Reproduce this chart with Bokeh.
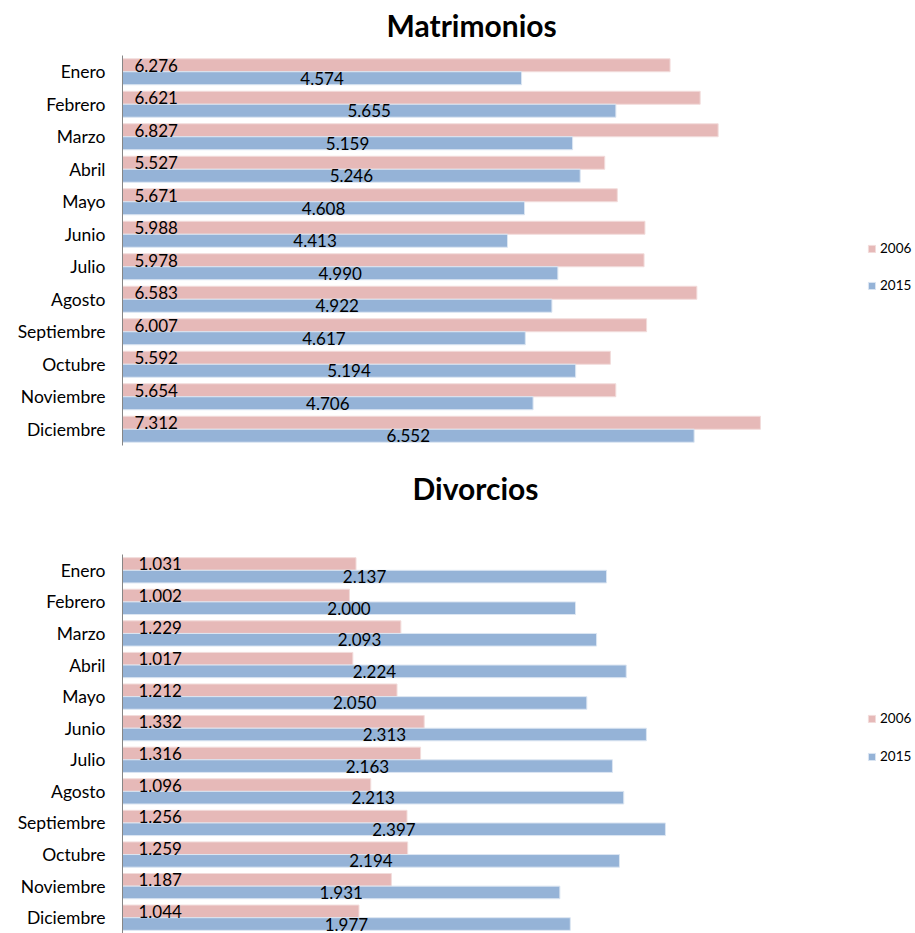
from bokeh.plotting import figure
from bokeh.models import ColumnDataSource, Legend, LegendItem, Title
from bokeh.transform import dodge
from bokeh.layouts import column
from bokeh.core.properties import value
from bokeh.embed import file_html
from bokeh.resources import INLINE

months = ["Enero", "Febrero", "Marzo", "Abril", "Mayo", "Junio", "Julio",
          "Agosto", "Septiembre", "Octubre", "Noviembre", "Diciembre"]
series_names = ["2006", "2015"]
mat_2006 = [6276, 6621, 6827, 5527, 5671, 5988, 5978, 6583, 6007, 5592, 5654, 7312]
mat_2015 = [4574, 5655, 5159, 5246, 4608, 4413, 4990, 4922, 4617, 5194, 4706, 6552]
div_2006 = [1031, 1002, 1229, 1017, 1212, 1332, 1316, 1096, 1256, 1259, 1187, 1044]
div_2015 = [2137, 2000, 2093, 2224, 2050, 2313, 2163, 2213, 2397, 2194, 1931, 1977]

FONT = "Lato"
PINK = "#E6B9B8"
BLUE = "#95B3D7"
PINK_EDGE = "#F2DCDB"
BLUE_EDGE = "#DCE6F2"
W = 915
LEFT = 122


def fmt(v):
    return f"{v:,}".replace(",", ".")


def make_chart(title, a, b, height, border_top, border_bottom, x_end,
               title_offset, title_pad, legend_loc, legend_spacing, label_dx):
    src = ColumnDataSource(dict(
        month=months,
        a=a, b=b,
        b_half=[v / 2 for v in b],
        la=[fmt(v) for v in a],
        lb=[fmt(v) for v in b],
    ))
    p = figure(width=W, height=height, y_range=months[::-1], x_range=(0, x_end),
               output_backend="svg", toolbar_location=None, x_axis_location=None,
               min_border_top=border_top, min_border_bottom=border_bottom,
               min_border_left=LEFT, min_border_right=0)
    p.outline_line_color = None
    p.xgrid.visible = False
    p.ygrid.visible = False
    p.background_fill_color = "white"
    p.border_fill_color = "white"

    ya = dodge("month", 0.2, range=p.y_range)
    yb = dodge("month", -0.2, range=p.y_range)
    ra = p.hbar(y=ya, left=0, right="a", height=0.4, source=src,
                fill_color=PINK, line_color=PINK_EDGE, line_width=1)
    rb = p.hbar(y=yb, left=0, right="b", height=0.4, source=src,
                fill_color=BLUE, line_color=BLUE_EDGE, line_width=1)

    p.text(x=0, y=ya, text="la", source=src, x_offset=label_dx,
           text_align="left", text_baseline="middle",
           text_font=value(FONT), text_font_size="17px", text_color="#000000")
    p.text(x="b_half", y=yb, text="lb", source=src,
           text_align="center", text_baseline="middle",
           text_font=value(FONT), text_font_size="17px", text_color="#000000")

    ax = p.yaxis[0]
    ax.axis_line_color = "#868686"
    ax.axis_line_width = 1
    ax.major_tick_line_color = None
    ax.minor_tick_line_color = None
    ax.major_tick_out = 0
    ax.major_tick_in = 0
    ax.major_label_standoff = 17
    ax.major_label_text_font = FONT
    ax.major_label_text_font_size = "17.5px"
    ax.major_label_text_color = "#000000"

    p.title = Title(text=title, align="left", offset=title_offset, standoff=0,
                    padding=dict(left=0, right=0, top=0, bottom=title_pad),
                    text_font=FONT, text_font_size="30px",
                    text_font_style="bold", text_color="#000000")

    legend = Legend(items=[LegendItem(label=series_names[0], renderers=[ra]),
                           LegendItem(label=series_names[1], renderers=[rb])],
                    location=legend_loc, orientation="vertical",
                    glyph_width=9, glyph_height=9, label_height=9, label_width=40,
                    label_standoff=4, spacing=legend_spacing, padding=0, margin=0,
                    border_line_color=None, background_fill_alpha=0,
                    label_text_font=FONT, label_text_font_size="13.5px",
                    label_text_color="#000000")
    p.add_layout(legend)
    return p


p1 = make_chart("Matrimonios", mat_2006, mat_2015, height=460,
                border_top=55, border_bottom=15, x_end=9089,
                title_offset=264, title_pad=13, legend_loc=(745, 152),
                legend_spacing=21, label_dx=12)
p2 = make_chart("Divorcios", div_2006, div_2015, height=473,
                border_top=94, border_bottom=0, x_end=3501,
                title_offset=290, title_pad=49, legend_loc=(745, 169),
                legend_spacing=22, label_dx=16)

layout = column(p1, p2, spacing=0)
open("out.html", "w").write(file_html(layout, INLINE))
